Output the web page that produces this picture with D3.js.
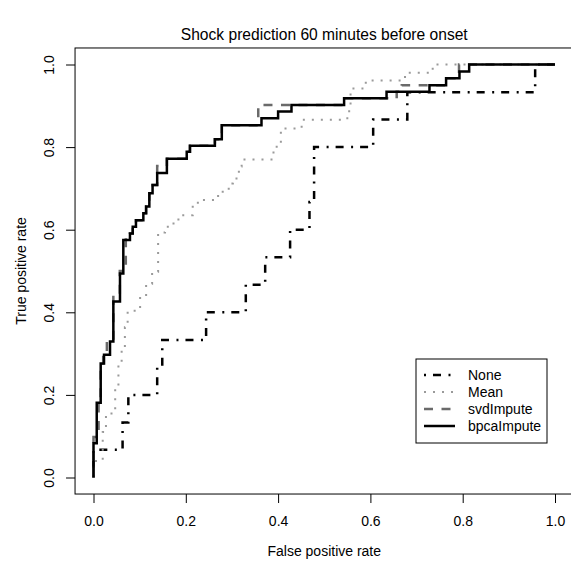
<!DOCTYPE html>
<html><head><meta charset="utf-8">
<script src="https://cdn.jsdelivr.net/npm/d3@7/dist/d3.min.js"></script>
<style>body{margin:0;background:#fff}svg{display:block}</style>
</head><body>
<svg id="chart" width="571" height="561"></svg>
<script>
// ---- data (ROC step corners: fpr at each riser, tpr at top of riser) ----
const seriesNames = ["None", "Mean", "svdImpute", "bpcaImpute"];

const noneFpr = [0, 0, 0.063, 0.0755, 0.138, 0.149, 0.244, 0.330, 0.372, 0.426, 0.468, 0.478, 0.606, 0.680, 0.957, 1.0];
const noneTpr = [0, 0.067, 0.133, 0.200, 0.267, 0.333, 0.400, 0.467, 0.533, 0.600, 0.667, 0.800, 0.867, 0.933, 1.0, 1.0];

const meanFpr = [0, 0, 0.020, 0.027, 0.047, 0.054, 0.061, 0.068, 0.074, 0.101, 0.114, 0.127, 0.140, 0.155, 0.161, 0.184, 0.215, 0.229, 0.270, 0.293, 0.302, 0.315, 0.321, 0.390, 0.406, 0.451, 0.550, 0.557, 0.590, 0.675, 0.735, 1.0];
const meanTpr = [0, 0.040, 0.110, 0.155, 0.214, 0.272, 0.309, 0.364, 0.404, 0.439, 0.469, 0.498, 0.593, 0.601, 0.615, 0.635, 0.665, 0.672, 0.692, 0.712, 0.724, 0.753, 0.770, 0.801, 0.845, 0.866, 0.887, 0.942, 0.961, 0.980, 1.0, 1.0];

const svdFpr = [0, 0, 0.011, 0.0156, 0.021, 0.029, 0.043, 0.057, 0.070, 0.079, 0.085, 0.092, 0.108, 0.114, 0.121, 0.128, 0.138, 0.159, 0.202, 0.209, 0.263, 0.278, 0.357, 0.543, 0.657, 0.668, 0.764, 0.792, 1.0];
const svdTpr = [0, 0.098, 0.180, 0.270, 0.300, 0.330, 0.440, 0.500, 0.580, 0.591, 0.607, 0.623, 0.640, 0.656, 0.688, 0.708, 0.754, 0.772, 0.789, 0.803, 0.819, 0.853, 0.902, 0.918, 0.934, 0.950, 0.967, 1.0, 1.0];

const bpcaFpr = [0, 0, 0.007, 0.0156, 0.0228, 0.0358, 0.043, 0.0574, 0.0646, 0.079, 0.085, 0.092, 0.108, 0.114, 0.121, 0.128, 0.138, 0.159, 0.202, 0.209, 0.263, 0.278, 0.364, 0.400, 0.429, 0.543, 0.635, 0.728, 0.764, 0.793, 0.814, 1.0];
const bpcaTpr = [0, 0.083, 0.181, 0.276, 0.297, 0.329, 0.426, 0.494, 0.575, 0.591, 0.607, 0.623, 0.640, 0.656, 0.688, 0.708, 0.737, 0.772, 0.789, 0.803, 0.819, 0.853, 0.870, 0.886, 0.902, 0.918, 0.934, 0.950, 0.967, 0.983, 1.0, 1.0];

const xTicks = [0, 0.2, 0.4, 0.6, 0.8, 1.0];
const yTicks = [0, 0.2, 0.4, 0.6, 0.8, 1.0];
const titleText = "Shock prediction 60 minutes before onset";
const xLabelText = "False positive rate";
const yLabelText = "True positive rate";

// ---- styles ----
const styles = {
  None:       {stroke: "#000",    width: 2.5, dash: "2,7,8,7.5"},
  Mean:       {stroke: "#9a9a9a", width: 2,   dash: "2,7"},
  svdImpute:  {stroke: "#6a6a6a", width: 2.5, dash: "9,8.5"},
  bpcaImpute: {stroke: "#000",    width: 2.5, dash: null}
};

const series = [
  {name: "None", fpr: noneFpr, tpr: noneTpr},
  {name: "Mean", fpr: meanFpr, tpr: meanTpr},
  {name: "svdImpute", fpr: svdFpr, tpr: svdTpr},
  {name: "bpcaImpute", fpr: bpcaFpr, tpr: bpcaTpr}
];

(function draw() {
  const font = "'Liberation Sans', Arial, Helvetica, sans-serif";
  const svg = d3.select("#chart");

  const x = d3.scaleLinear().domain([0, 1]).range([93.5, 555]);
  const y = d3.scaleLinear().domain([0, 1]).range([477.5, 64.5]);

  const bLeft = x(-0.04), bRight = x(1.04), bTop = y(1.04), bBottom = y(-0.04);

  // curves
  const line = d3.line().x(d => x(d[0])).y(d => y(d[1])).curve(d3.curveStepAfter);
  const gCurves = svg.append("g");
  series.forEach(s => {
    const st = styles[s.name];
    const pts = s.fpr.map((f, i) => [f, s.tpr[i]]);
    gCurves.append("path")
      .attr("d", line(pts))
      .attr("fill", "none")
      .attr("stroke", st.stroke)
      .attr("stroke-width", st.width)
      .attr("stroke-dasharray", st.dash)
      .attr("stroke-linejoin", "miter")
      .attr("stroke-linecap", "butt");
  });

  // box
  svg.append("rect")
    .attr("x", bLeft).attr("y", bTop)
    .attr("width", bRight - bLeft).attr("height", bBottom - bTop)
    .attr("fill", "none").attr("stroke", "#000").attr("stroke-width", 1);

  // x axis
  const gx = svg.append("g").attr("transform", `translate(0,${bBottom})`)
    .call(d3.axisBottom(x).tickValues(xTicks).tickFormat(d3.format(".1f")).tickSize(9).tickSizeOuter(0));
  gx.select(".domain").remove();
  gx.selectAll("line").attr("stroke", "#000");
  gx.selectAll("text").attr("y", 32).attr("dy", null)
    .style("font-family", font).style("font-size", "14px").attr("fill", "#000");

  // y axis
  const gy = svg.append("g").attr("transform", `translate(${bLeft},0)`)
    .call(d3.axisLeft(y).tickValues(yTicks).tickFormat(d3.format(".1f")).tickSize(9).tickSizeOuter(0));
  gy.select(".domain").remove();
  gy.selectAll("line").attr("stroke", "#000");
  gy.selectAll("text")
    .attr("x", null).attr("dy", null)
    .attr("transform", "translate(-21,0) rotate(-90)")
    .attr("text-anchor", "middle")
    .style("font-family", font).style("font-size", "14px").attr("fill", "#000");

  // title & axis labels
  const cx = (bLeft + bRight) / 2;
  svg.append("text").attr("x", cx).attr("y", 40).attr("text-anchor", "middle")
    .style("font-family", font).style("font-size", "15.6px").text(titleText);
  svg.append("text").attr("x", cx).attr("y", 556).attr("text-anchor", "middle")
    .style("font-family", font).style("font-size", "14px").text(xLabelText);
  svg.append("text").attr("transform", `translate(26,${(bTop + bBottom) / 2}) rotate(-90)`)
    .attr("text-anchor", "middle")
    .style("font-family", font).style("font-size", "14px").text(yLabelText);

  // legend
  const lg = {x0: 416, x1: 547, y0: 359, y1: 443, rowY0: 375, rowStep: 17, sx0: 424, sx1: 455, tx: 468};
  const gl = svg.append("g");
  gl.append("rect").attr("x", lg.x0).attr("y", lg.y0)
    .attr("width", lg.x1 - lg.x0).attr("height", lg.y1 - lg.y0)
    .attr("fill", "#fff").attr("stroke", "#000").attr("stroke-width", 1);
  seriesNames.forEach((nm, i) => {
    const st = styles[nm];
    const yy = lg.rowY0 + i * lg.rowStep;
    gl.append("line").attr("x1", lg.sx0).attr("x2", lg.sx1).attr("y1", yy).attr("y2", yy)
      .attr("stroke", st.stroke).attr("stroke-width", st.width)
      .attr("stroke-dasharray", st.dash).attr("stroke-linecap", "butt");
    gl.append("text").attr("x", lg.tx).attr("y", yy + 5)
      .style("font-family", font).style("font-size", "14px").text(nm);
  });
})();
</script>
</body></html>
